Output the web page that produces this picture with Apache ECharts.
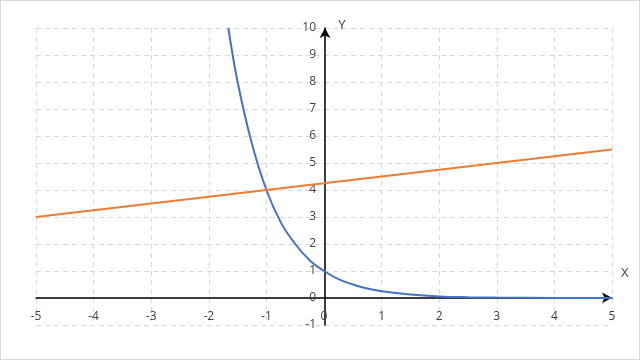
<!DOCTYPE html>
<html><head><meta charset="utf-8">
<script src="https://cdn.jsdelivr.net/npm/echarts@6/dist/echarts.min.js"></script>
<style>html,body{margin:0;padding:0;background:#fff}#c{width:640px;height:360px;box-sizing:border-box;border:1px solid #d9d9d9}</style>
</head><body><div id="c"></div>
<script>
const curveX = [-1.66, -1.5, -1.25, -1, -0.75, -0.5, -0.25, 0, 0.25, 0.5, 0.75, 1, 1.5, 2, 2.5, 3, 4, 5];
const curveY = [10, 8, 5.7, 4, 2.8, 2, 1.4, 1, 0.7, 0.5, 0.35, 0.25, 0.13, 0.06, 0.03, 0.016, 0.004, 0.001];
const lineX = [-5, -4, -3, -2, -1, 0, 1, 2, 3, 4, 5];
const lineY = [3, 3.25, 3.5, 3.75, 4, 4.25, 4.5, 4.75, 5, 5.25, 5.5];
const xName = 'X', yName = 'Y';

const chart = echarts.init(document.getElementById('c'));
const font = 'Open Sans, Liberation Sans, sans-serif';
const G = {left: 35, right: 27, top: 27, bottom: 34};
const W = 640 - G.left - G.right, H = 360 - G.top - G.bottom;
// shift axes so they sit at x=0 / y=0 (axis ranges: x -5..5, y -1..10)
const yOff = -W * (0 - (-5)) / 10;
const xOff = -H * (0 - (-1)) / 11;
chart.setOption({
  animation: false,
  grid: G,
  xAxis: {
    type: 'value', min: -5, max: 5, interval: 1, offset: xOff,
    name: xName, nameLocation: 'end', nameGap: 9,
    nameTextStyle: {color: '#404040', fontSize: 13, fontFamily: font, verticalAlign: 'bottom', padding: [0, 0, 18, 0]},
    axisLine: {onZero: false, lineStyle: {color: '#000', width: 1.5}, symbol: ['none', 'arrow'], symbolSize: [8, 10]},
    axisTick: {show: false},
    axisLabel: {color: '#404040', fontSize: 12, fontFamily: font, margin: 13},
    splitLine: {show: true, lineStyle: {color: '#d9d9d9', type: [5, 4], width: 1}}
  },
  yAxis: {
    type: 'value', min: -1, max: 10, interval: 1, offset: yOff,
    name: yName, nameLocation: 'end', nameGap: -4,
    nameTextStyle: {color: '#404040', fontSize: 13, fontFamily: font, padding: [0, 0, 0, 34]},
    axisLine: {onZero: false, lineStyle: {color: '#000', width: 1.5}, symbol: ['none', 'arrow'], symbolSize: [8, 10]},
    axisTick: {show: false},
    axisLabel: {color: '#404040', fontSize: 12, fontFamily: font, margin: 9},
    splitLine: {show: true, lineStyle: {color: '#d9d9d9', type: [5, 4], width: 1}}
  },
  series: [
    {type: 'line', data: curveX.map((x, i) => [x, curveY[i]]), smooth: 0.4, showSymbol: false,
     lineStyle: {color: '#4472C4', width: 2}, z: 3},
    {type: 'line', data: lineX.map((x, i) => [x, lineY[i]]), showSymbol: false,
     lineStyle: {color: '#ED7D31', width: 2}, z: 3}
  ]
});
</script></body></html>
